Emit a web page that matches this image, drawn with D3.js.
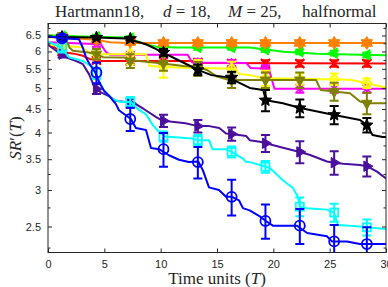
<!DOCTYPE html>
<html><head><meta charset="utf-8">
<script src="https://cdn.jsdelivr.net/npm/d3@7"></script>
<style>body{margin:0;background:#fff}svg{display:block}</style>
</head><body>
<svg id="c" width="388" height="287"></svg>
<script>
// ---------- data ----------
const markerT = [1.25, 4.3, 7.3, 10.25, 13.3, 16.3, 19.3, 22.35, 25.4, 28.3];
const xTicks = [0, 5, 10, 15, 20, 25, 30];
const yTicks = [2.5, 3, 3.5, 4, 4.5, 5, 5.5, 6, 6.5];
const yMinorTicks = [2.25, 2.75, 3.25, 3.75, 4.25, 4.75, 5.25, 5.75, 6.25, 6.75];

const redT = [0, 0.6, 1.0, 1.6, 2.5, 3.1, 3.7, 4.6, 13.0, 13.5, 30];
const redV = [6.22, 6.12, 6.02, 5.97, 5.92, 5.87, 5.78, 5.72, 5.72, 5.66, 5.65];
const redM = [6.0, 5.74, 5.72, 5.72, 5.68, 5.65, 5.65, 5.65, 5.65, 5.65];
const redE = [0.08, 0.08, 0.08, 0.08, 0.08, 0.09, 0.09, 0.09, 0.09, 0.09];

const magentaT = [0, 4.7, 5.1, 5.5, 12.4, 12.8, 17.6, 18.0, 19.6, 20.1, 30];
const magentaV = [6.28, 6.22, 6.0, 5.9, 5.9, 5.68, 5.66, 5.52, 5.5, 4.98, 4.98];
const magentaM = [6.27, 6.22, 5.9, 5.9, 5.68, 5.66, 5.5, 4.98, 4.98, 4.98];
const magentaE = [0.06, 0.08, 0.08, 0.08, 0.08, 0.08, 0.1, 0.1, 0.1, 0.1];

const yellowT = [0, 1.0, 3.1, 3.6, 4.5, 8.7, 9.0, 11.4, 13.5, 16.6, 17.0, 17.9, 19.1, 26.8, 28.3, 29.5, 30];
const yellowV = [6.2, 6.18, 6.12, 5.97, 5.92, 5.92, 5.58, 5.54, 5.52, 5.5, 5.36, 5.33, 5.25, 5.21, 5.12, 5.04, 5.01];
const yellowM = [6.16, 5.92, 5.92, 5.56, 5.53, 5.5, 5.25, 5.23, 5.22, 5.12];
const yellowE = [0.1, 0.15, 0.3, 0.3, 0.22, 0.2, 0.2, 0.15, 0.15, 0.12];

const oliveT = [0, 1.5, 1.9, 2.2, 3.6, 4.3, 4.9, 6.8, 7.2, 8.7, 10.2, 12.0, 13.3, 14.1, 15.0, 16.1, 23.8, 24.2, 25.4, 26.8, 27.7, 28.3, 30];
const oliveV = [6.5, 6.47, 6.12, 6.02, 5.97, 5.92, 5.83, 5.82, 5.75, 5.7, 5.65, 5.58, 5.55, 5.47, 5.29, 5.2, 5.2, 4.95, 4.91, 4.87, 4.67, 4.63, 4.63];
const oliveM = [6.48, 5.92, 5.72, 5.65, 5.52, 5.2, 5.2, 5.2, 4.91, 4.63];
const oliveE = [0.1, 0.15, 0.2, 0.2, 0.17, 0.2, 0.2, 0.2, 0.22, 0.25];

const greenT = [0, 4, 6.9, 8.7, 9.6, 11.4, 17.9, 19.7, 20.85, 23.9, 27.7, 30];
const greenV = [6.5, 6.46, 6.43, 6.22, 6.14, 6.12, 6.12, 6.04, 5.99, 5.93, 5.9, 5.89];
const greenM = [6.48, 6.46, 6.42, 6.12, 6.12, 6.12, 6.05, 5.99, 5.95, 5.9];
const greenE = [0.06, 0.06, 0.06, 0.07, 0.07, 0.07, 0.07, 0.07, 0.07, 0.07];

const orangeT = [0, 2, 4.5, 5.5, 7, 30];
const orangeV = [6.45, 6.42, 6.35, 6.28, 6.26, 6.26];
const orangeM = [6.43, 6.36, 6.29, 6.26, 6.26, 6.26, 6.26, 6.26, 6.26, 6.26];
const orangeE = [0.06, 0.06, 0.06, 0.06, 0.06, 0.06, 0.06, 0.06, 0.06, 0.06];

const blackT = [0, 4.3, 6.9, 8.7, 9.6, 10.5, 11.4, 12.5, 13.3, 14.5, 16.0, 17.9, 19.1, 19.34, 20.85, 22.4, 25.3, 27.7, 28.3, 28.8, 29.7, 30];
const blackV = [6.45, 6.43, 6.4, 6.22, 6.07, 5.92, 5.77, 5.6, 5.47, 5.33, 5.27, 5.0, 4.95, 4.7, 4.63, 4.52, 4.37, 4.26, 4.15, 3.95, 3.91, 3.91];
const blackM = [6.45, 6.43, 6.39, 5.97, 5.47, 5.27, 4.7, 4.52, 4.37, 4.15];
const blackE = [0.05, 0.05, 0.06, 0.1, 0.15, 0.15, 0.25, 0.2, 0.2, 0.15];

const purpleT = [0, 0.6, 1.15, 1.6, 2.5, 3.1, 3.65, 4.2, 4.7, 5.4, 6.0, 6.9, 7.8, 8.5, 9.6, 10.2, 11.4, 12.2, 13.3, 14.3, 15.2, 15.8, 16.3, 17.6, 17.9, 18.8, 19.34, 20.6, 21.74, 22.36, 23.2, 24.76, 25.38, 26.2, 27.68, 28.3, 29.2, 30];
const purpleV = [6.2, 6.05, 5.92, 5.83, 5.72, 5.63, 5.35, 4.97, 4.89, 4.8, 4.69, 4.66, 4.61, 4.5, 4.32, 4.24, 4.21, 4.19, 4.13, 4.13, 4.09, 3.98, 3.97, 3.93, 3.85, 3.82, 3.79, 3.72, 3.66, 3.63, 3.58, 3.46, 3.44, 3.42, 3.4, 3.38, 3.29, 3.18];
const purpleM = [5.92, 4.97, 4.63, 4.24, 4.13, 3.97, 3.79, 3.63, 3.44, 3.38];
const purpleE = [0.1, 0.12, 0.1, 0.13, 0.13, 0.13, 0.16, 0.2, 0.2, 0.17];

const cyanT = [0, 1.15, 1.86, 3.08, 3.96, 4.55, 4.97, 5.74, 6.48, 7.36, 7.96, 8.7, 9.3, 9.9, 10.4, 11.0, 12.8, 13.3, 14.3, 14.6, 15.8, 16.3, 17.3, 17.6, 17.9, 18.8, 19.34, 19.7, 20.85, 21.74, 22.18, 22.36, 22.98, 24.76, 25.38, 25.73, 27.68, 28.3, 30];
const cyanV = [6.3, 6.12, 5.83, 5.72, 5.55, 5.18, 4.93, 4.73, 4.66, 4.66, 4.5, 4.38, 4.15, 4.0, 3.92, 3.91, 3.88, 3.85, 3.85, 3.68, 3.68, 3.63, 3.51, 3.45, 3.45, 3.4, 3.37, 3.35, 3.15, 3.03, 2.9, 2.76, 2.74, 2.72, 2.68, 2.52, 2.5, 2.49, 2.47];
const cyanM = [6.12, 5.38, 4.66, 3.92, 3.85, 3.63, 3.37, 2.76, 2.68, 2.49];
const cyanE = [0.15, 0.15, 0.12, 0.1, 0.1, 0.1, 0.1, 0.13, 0.12, 0.1];

const blueT = [0, 1.15, 2.75, 3.08, 3.37, 3.64, 4.2, 4.55, 4.97, 5.41, 6.03, 6.3, 7.36, 7.8, 8.7, 9.14, 9.85, 10.74, 11.62, 12.5, 13.34, 13.75, 14.29, 15.17, 15.8, 16.33, 16.95, 17.3, 17.9, 18.8, 19.34, 19.96, 22.1, 23.0, 24.76, 25.2, 26.53, 27.68, 30];
const blueV = [6.48, 6.41, 6.38, 6.12, 5.83, 5.66, 5.4, 5.14, 4.93, 4.81, 4.61, 4.47, 4.28, 4.09, 4.05, 3.7, 3.68, 3.57, 3.49, 3.45, 3.46, 3.31, 3.04, 3.0, 2.9, 2.9, 2.85, 2.74, 2.71, 2.63, 2.57, 2.51, 2.51, 2.42, 2.38, 2.32, 2.32, 2.29, 2.29];
const blueM = [6.41, 5.4, 4.28, 3.68, 3.45, 2.9, 2.57, 2.51, 2.32, 2.29];
const blueE = [0.1, 0.28, 0.25, 0.31, 0.27, 0.26, 0.22, 0.22, 0.2, 0.2];

// ---------- styles (drawing order) ----------
const series = [
  {t: redT, v: redV, m: redM, e: redE, color: "#ff0000", shape: "x"},
  {t: magentaT, v: magentaV, m: magentaM, e: magentaE, color: "#ff00ff", shape: "plus"},
  {t: yellowT, v: yellowV, m: yellowM, e: yellowE, color: "#ffff00", shape: "diamond"},
  {t: oliveT, v: oliveV, m: oliveM, e: oliveE, color: "#808000", shape: "down"},
  {t: greenT, v: greenV, m: greenM, e: greenE, color: "#00ff00", shape: "left"},
  {t: orangeT, v: orangeV, m: orangeM, e: orangeE, color: "#ff8000", shape: "hex"},
  {t: blackT, v: blackV, m: blackM, e: blackE, color: "#000000", shape: "star"},
  {t: purpleT, v: purpleV, m: purpleM, e: purpleE, color: "#4b0f9e", shape: "right"},
  {t: cyanT, v: cyanV, m: cyanM, e: cyanE, color: "#00ffff", shape: "square"},
  {t: blueT, v: blueV, m: blueM, e: blueE, color: "#0000ff", shape: "circle"}
];

// ---------- layout ----------
const L = 48, R = 386, T = 23.5, B = 252.5;
const svg = d3.select("#c");
const x = d3.scaleLinear().domain([0, 30]).range([L, R]);
const y = d3.scaleLog().domain([2.195, 6.9]).range([B, T]);
const axisColor = "#262626";

svg.append("defs").append("clipPath").attr("id", "clip")
  .append("rect").attr("x", L).attr("y", T).attr("width", R - L).attr("height", B - T);

svg.append("rect").attr("x", L).attr("y", T).attr("width", R - L).attr("height", B - T).attr("fill", "#fff");

const plot = svg.append("g").attr("clip-path", "url(#clip)");
const line = d3.line().x(d => x(d[0])).y(d => y(d[1]));

function triPath(r, dir) {
  const pts = {down: [[0, r], [r * 0.87, -r * 0.5], [-r * 0.87, -r * 0.5]],
               left: [[-r, 0], [r * 0.5, -r * 0.87], [r * 0.5, r * 0.87]],
               right: [[r, 0], [-r * 0.5, -r * 0.87], [-r * 0.5, r * 0.87]]}[dir];
  return "M" + pts.map(p => p.join(",")).join("L") + "Z";
}
function starPath(n, ro, ri) {
  let d = "";
  for (let i = 0; i < 2 * n; i++) {
    const r = i % 2 === 0 ? ro : ri;
    const a = -Math.PI / 2 + i * Math.PI / n;
    d += (i === 0 ? "M" : "L") + (r * Math.cos(a)).toFixed(2) + "," + (r * Math.sin(a)).toFixed(2);
  }
  return d + "Z";
}

series.forEach(s => {
  const g = plot.append("g");
  g.append("path").datum(s.t.map((t, i) => [t, s.v[i]]))
    .attr("d", line).attr("fill", "none").attr("stroke", s.color)
    .attr("stroke-width", 2).attr("stroke-linejoin", "round");
  const pts = markerT.map((t, i) => ({t, v: s.m[i], e: s.e[i]}));
  const eb = g.selectAll(".eb").data(pts).enter().append("g");
  eb.append("line").attr("x1", d => x(d.t)).attr("x2", d => x(d.t))
    .attr("y1", d => y(d.v - d.e)).attr("y2", d => y(d.v + d.e))
    .attr("stroke", s.color).attr("stroke-width", 2);
  [-1, 1].forEach(sg => {
    eb.append("line").attr("x1", d => x(d.t) - 4.5).attr("x2", d => x(d.t) + 4.5)
      .attr("y1", d => y(d.v + sg * d.e)).attr("y2", d => y(d.v + sg * d.e))
      .attr("stroke", s.color).attr("stroke-width", 2);
  });
  const mk = g.selectAll(".mk").data(pts).enter().append("g")
    .attr("transform", d => `translate(${x(d.t)},${y(d.v)})`);
  const sw = 1.8;
  switch (s.shape) {
    case "circle":
      mk.append("circle").attr("r", 5).attr("fill", "none").attr("stroke", s.color).attr("stroke-width", sw); break;
    case "square":
      mk.append("rect").attr("x", -4).attr("y", -4).attr("width", 8).attr("height", 8)
        .attr("fill", "none").attr("stroke", s.color).attr("stroke-width", sw); break;
    case "diamond":
      mk.append("path").attr("d", "M0,-5.5L4.5,0L0,5.5L-4.5,0Z").attr("fill", "none").attr("stroke", s.color).attr("stroke-width", sw); break;
    case "x":
      mk.append("path").attr("d", "M-4.5,-4.5L4.5,4.5M-4.5,4.5L4.5,-4.5").attr("stroke", s.color).attr("stroke-width", 2); break;
    case "plus":
      mk.append("path").attr("d", "M-5,0L5,0M0,-5L0,5M-3.5,-3.5L3.5,3.5M-3.5,3.5L3.5,-3.5").attr("stroke", s.color).attr("stroke-width", 1.6); break;
    case "down": case "left": case "right":
      mk.append("path").attr("d", triPath(6, s.shape)).attr("fill", s.color).attr("stroke", s.color).attr("stroke-width", 1); break;
    case "hex":
      mk.append("path").attr("d", starPath(6, 6.5, 3.8)).attr("fill", s.color).attr("stroke", s.color).attr("stroke-width", 1); break;
    case "star":
      mk.append("path").attr("d", starPath(5, 6.5, 2.8)).attr("fill", s.color).attr("stroke", s.color).attr("stroke-width", 1); break;
  }
});

// ---------- axes ----------
const ax = svg.append("g").attr("stroke", axisColor).attr("stroke-width", 1).attr("fill", "none");
ax.append("rect").attr("x", L).attr("y", T).attr("width", R - L).attr("height", B - T);

const xAxisB = d3.axisBottom(x).tickValues(xTicks).tickSize(-4).tickPadding(8).tickSizeOuter(0);
const gxb = svg.append("g").attr("transform", `translate(0,${B})`).call(xAxisB);
const xAxisT = d3.axisTop(x).tickValues(xTicks).tickSize(-4).tickFormat("").tickSizeOuter(0);
const gxt = svg.append("g").attr("transform", `translate(0,${T})`).call(xAxisT);
const yAxisL = d3.axisLeft(y).tickValues(yTicks).tickFormat(d3.format("")).tickSize(-4).tickPadding(7).tickSizeOuter(0);
const gyl = svg.append("g").attr("transform", `translate(${L},0)`).call(yAxisL);
const yAxisR = d3.axisRight(y).tickValues(yTicks).tickFormat("").tickSize(-4).tickSizeOuter(0);
const gyr = svg.append("g").attr("transform", `translate(${R},0)`).call(yAxisR);
const yMinL = d3.axisLeft(y).tickValues(yMinorTicks).tickFormat("").tickSize(-2.5).tickSizeOuter(0);
const gml = svg.append("g").attr("transform", `translate(${L},0)`).call(yMinL);
const yMinR = d3.axisRight(y).tickValues(yMinorTicks).tickFormat("").tickSize(-2.5).tickSizeOuter(0);
const gmr = svg.append("g").attr("transform", `translate(${R},0)`).call(yMinR);
[gxb, gxt, gyl, gyr, gml, gmr].forEach(g => {
  g.select(".domain").remove();
  g.selectAll("line").attr("stroke", axisColor);
  g.selectAll("text").attr("fill", axisColor).attr("font-family", "'Liberation Sans', Arial, sans-serif").attr("font-size", 11);
});

// ---------- labels ----------
const serif = "'Liberation Serif', 'DejaVu Serif', serif";
const title = svg.append("g").attr("font-family", serif).attr("font-size", 17).attr("fill", "#262626");
title.append("text").attr("x", 55).attr("y", 17).text("Hartmann18,");
const t2 = title.append("text").attr("x", 163).attr("y", 17);
t2.append("tspan").attr("font-style", "italic").text("d");
t2.append("tspan").text(" = 18,");
const t3 = title.append("text").attr("x", 228).attr("y", 17);
t3.append("tspan").attr("font-style", "italic").text("M");
t3.append("tspan").text(" = 25,");
title.append("text").attr("x", 302).attr("y", 17).text("halfnormal");

const xl = svg.append("text").attr("x", 217).attr("y", 284).attr("text-anchor", "middle")
  .attr("font-family", serif).attr("font-size", 17).attr("fill", "#262626");
xl.append("tspan").text("Time units (");
xl.append("tspan").attr("font-style", "italic").text("T");
xl.append("tspan").text(")");

const yl = svg.append("text").attr("transform", "translate(21,138) rotate(-90)").attr("text-anchor", "middle")
  .attr("font-family", serif).attr("font-size", 17).attr("fill", "#262626");
yl.append("tspan").attr("font-style", "italic").text("SR");
yl.append("tspan").text("′(");
yl.append("tspan").attr("font-style", "italic").text("T");
yl.append("tspan").text(")");
</script>
</body></html>
